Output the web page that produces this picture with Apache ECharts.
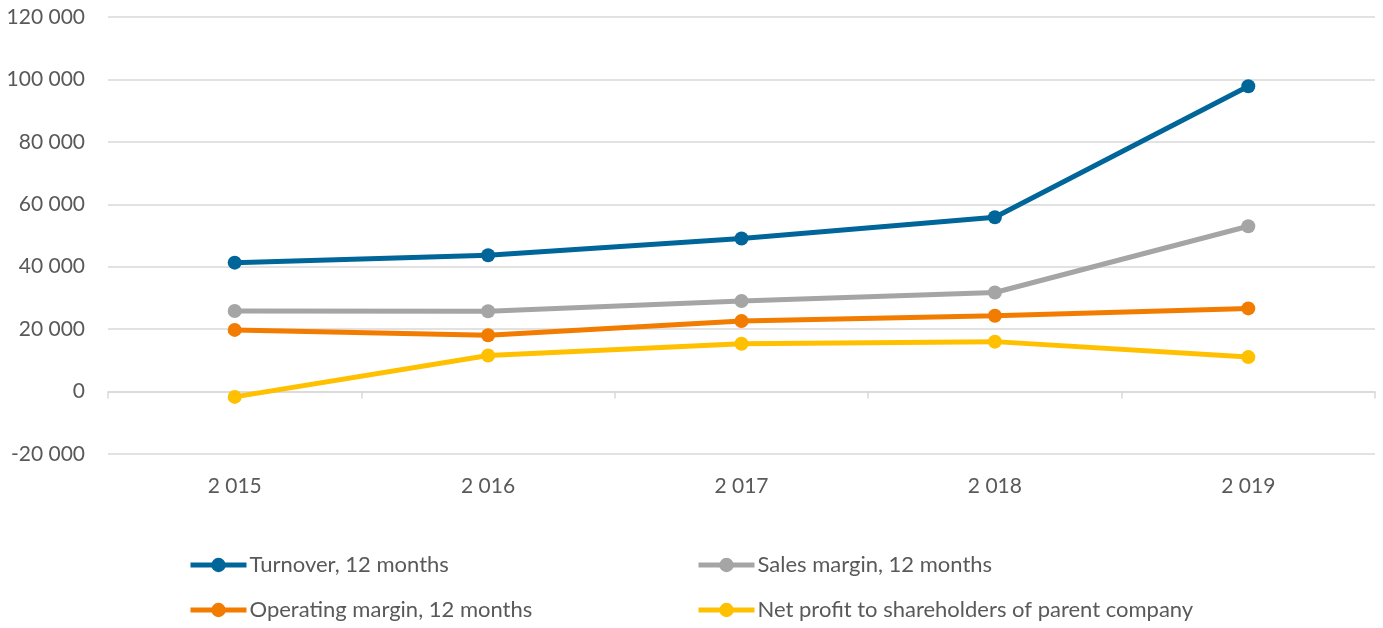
<!DOCTYPE html>
<html><head><meta charset="utf-8">
<script src="https://cdn.jsdelivr.net/npm/echarts@6/dist/echarts.min.js"></script>
<style>html,body{margin:0;padding:0;background:#fff}#c{width:1383px;height:628px}</style>
</head><body><div id="c"></div>
<script>
const categories = ['2 015', '2 016', '2 017', '2 018', '2 019'];
const turnover = [41300, 43650, 49050, 55850, 97800];
const salesMargin = [25800, 25750, 29000, 31750, 52950];
const operatingMargin = [19750, 18050, 22600, 24300, 26650];
const netProfit = [-1700, 11550, 15300, 16000, 11050];
const seriesNames = ['Turnover, 12 months', 'Sales margin, 12 months', 'Operating margin, 12 months', 'Net profit to shareholders of parent company'];
const colors = ['#006699', '#A5A5A5', '#F27C00', '#FFC000'];

const font = 'Lato, "Open Sans", sans-serif';
const chart = echarts.init(document.getElementById('c'));
function fmt(v){ const s = Math.abs(v).toString().replace(/\B(?=(\d{3})+(?!\d))/g, ' '); return (v<0?'-':'') + s; }
const dataSets = [turnover, salesMargin, operatingMargin, netProfit];
const legendCommon = { orient: 'vertical', top: 554, padding: 0, itemWidth: 56, itemHeight: 18, itemGap: 23,
  lineStyle: { width: 5 },
  textStyle: { fontFamily: font, fontSize: 22, color: '#595959', padding: [0, 0, 0, -2] } };
chart.setOption({
  animation: false,
  color: colors,
  grid: { left: 108, right: 8, top: 17, bottom: 174, containLabel: false },
  legend: [
    Object.assign({ data: [seriesNames[0], seriesNames[2]], left: 188 }, legendCommon),
    Object.assign({ data: [seriesNames[1], seriesNames[3]], left: 696 }, legendCommon)
  ],
  xAxis: {
    type: 'category', data: categories, boundaryGap: true,
    axisLine: { onZero: true, lineStyle: { color: '#D9D9D9', width: 1.5 } },
    axisTick: { show: true, length: 7, lineStyle: { color: '#D9D9D9', width: 1.5 } },
    axisLabel: { margin: 22, fontFamily: font, fontSize: 21, color: '#595959' }
  },
  yAxis: {
    type: 'value', min: -20000, max: 120000, interval: 20000,
    axisLine: { show: false }, axisTick: { show: false },
    splitLine: { lineStyle: { color: '#D9D9D9', width: 1.5 } },
    axisLabel: { margin: 23, fontFamily: font, fontSize: 21, color: '#595959', formatter: fmt }
  },
  series: dataSets.map((d, i) => ({
    name: seriesNames[i], type: 'line', data: d,
    symbol: 'circle', symbolSize: 14,
    lineStyle: { width: 5, color: colors[i] },
    itemStyle: { color: colors[i] }
  }))
});
</script></body></html>
